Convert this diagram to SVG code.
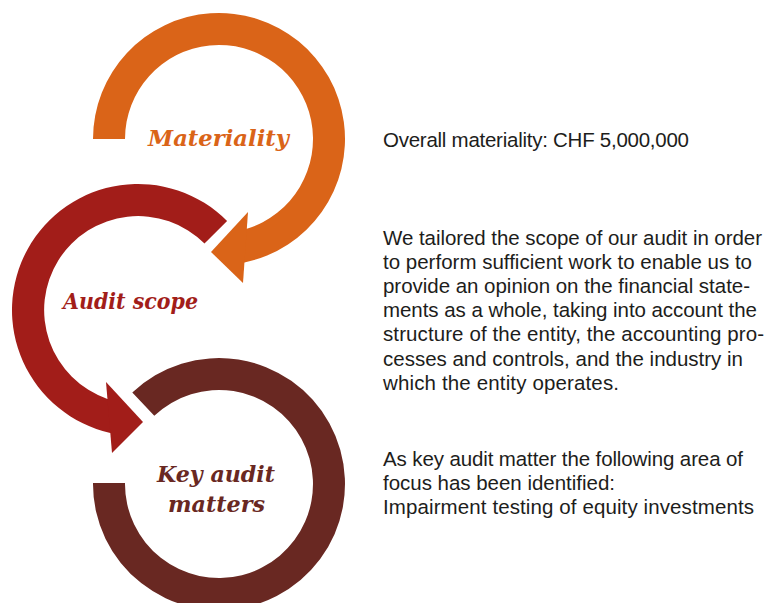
<svg xmlns="http://www.w3.org/2000/svg" width="767" height="603" viewBox="0 0 767 603">
<style>
.lbl{font-family:"DejaVu Serif","Liberation Serif",serif;font-weight:bold;font-style:italic;font-size:23px}
.body{font-family:"Liberation Sans",Arial,sans-serif;font-size:20.5px;fill:#1d1d1b}
.orange{fill:#DA6418}
.red{fill:#A21D19}
.brown{fill:#692822}
</style>
<rect width="767" height="603" fill="#ffffff"/>
<g id="materiality">
<path class="orange" d="M93,139 A126,126 0 1 1 244.5,262.4 L241.5,262.4 L243.8,228.8 L246.8,228.8 A94,94 0 1 0 125,139 Z"/>
<text class="lbl" style="fill:#DA6418" x="148" y="145.5" textLength="141" lengthAdjust="spacingAndGlyphs">Materiality</text>
</g>
<g id="audit-scope">
<path class="red" d="M227.1,220.9 A126,126 0 1 0 110.3,432.9 L113.3,432.9 L110.4,398.9 L107.4,398.9 A94,94 0 1 1 204.5,243.5 Z"/>
<text class="lbl" style="fill:#A21D19" x="63" y="308.5" textLength="135" lengthAdjust="spacingAndGlyphs">Audit scope</text>
</g>
<g id="key-audit-matters">
<path class="brown" d="M93,483 A126,126 0 1 0 132.3,392.6 L154.3,415.8 A94,94 0 1 1 125,483 Z"/>
<text class="lbl" style="fill:#692822" x="157" y="482" textLength="118" lengthAdjust="spacingAndGlyphs">Key audit</text>
<text class="lbl" style="fill:#692822" x="168" y="512" textLength="97" lengthAdjust="spacingAndGlyphs">matters</text>
</g>
<g id="connectors">
<polygon class="orange" points="248,212 211,252 243,283"/>
<polygon class="red" points="106,382 143,422 112,453"/>
</g>
<g id="materiality-text">
<text class="body" x="383" y="146.5" textLength="306">Overall materiality: CHF 5,000,000</text>
</g>
<g id="audit-scope-text">
<text class="body" x="383" y="244.5" textLength="379">We tailored the scope of our audit in order</text>
<text class="body" x="383" y="268.7" textLength="369">to perform sufficient work to enable us to</text>
<text class="body" x="383" y="292.9" textLength="367">provide an opinion on the financial state-</text>
<text class="body" x="383" y="317.1" textLength="374">ments as a whole, taking into account the</text>
<text class="body" x="383" y="341.3" textLength="381">structure of the entity, the accounting pro-</text>
<text class="body" x="383" y="365.5" textLength="360">cesses and controls, and the industry in</text>
<text class="body" x="383" y="389.7" textLength="236">which the entity operates.</text>
</g>
<g id="key-audit-matters-text">
<text class="body" x="383" y="465.5" textLength="360">As key audit matter the following area of</text>
<text class="body" x="383" y="489.5" textLength="232">focus has been identified:</text>
<text class="body" x="383" y="513.5" textLength="371">Impairment testing of equity investments</text>
</g>
</svg>
